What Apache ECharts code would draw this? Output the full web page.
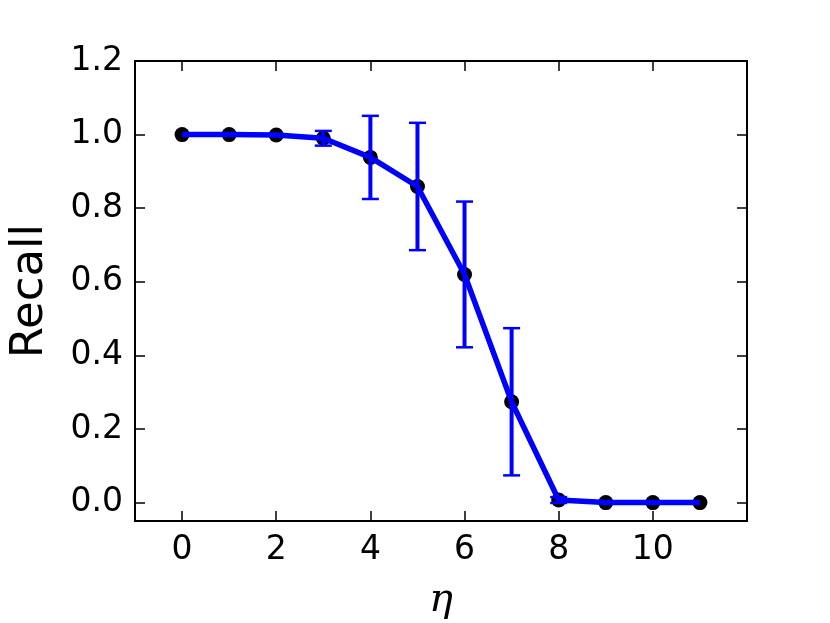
<!DOCTYPE html>
<html>
<head>
<meta charset="utf-8">
<script src="https://cdn.jsdelivr.net/npm/echarts@6/dist/echarts.min.js"></script>
<style>
  html, body { margin: 0; padding: 0; background: #fff; }
  #recallChart { width: 830px; height: 623px; }
</style>
</head>
<body>
<div id="recallChart"></div>
<script>
// eta values along the x axis
const etaValues = [0, 1, 2, 3, 4, 5, 6, 7, 8, 9, 10, 11];
// mean recall per eta
const recallMean = [1.0, 1.0, 0.999, 0.99, 0.938, 0.859, 0.62, 0.274, 0.007, 0.0, 0.0, 0.0];
// half width of the error bar
const recallErr = [0, 0, 0, 0.02, 0.113, 0.173, 0.198, 0.2, 0.008, 0, 0, 0];
const xTicks = [0, 2, 4, 6, 8, 10];
const yTicks = [0.0, 0.2, 0.4, 0.6, 0.8, 1.0, 1.2];

const chart = echarts.init(document.getElementById("recallChart"));

const points = etaValues.map((x, i) => [x, recallMean[i]]);
const bars = etaValues
  .map((x, i) => [x, recallMean[i] - recallErr[i], recallMean[i] + recallErr[i]])
  .filter((d, i) => recallErr[i] > 0);

const tickStyle = { show: true, inside: true, length: 10, lineStyle: { color: "#000", width: 1.5 } };
const hiddenLine = { show: false, onZero: false };

chart.setOption({
  animation: false,
  textStyle: { fontFamily: "DejaVu Sans" },
  grid: {
    left: 135, right: 83, top: 61, bottom: 102,
    outerBoundsMode: "none", containLabel: false,
    show: true, borderColor: "#000", borderWidth: 2, backgroundColor: "#fff"
  },
  xAxis: [
    {
      type: "value", min: -1, max: 12, position: "bottom",
      name: "η", nameLocation: "middle", nameGap: 60,
      nameTextStyle: { fontFamily: "DejaVu Serif", fontStyle: "italic", fontSize: 40, color: "#000" },
      axisLine: hiddenLine,
      splitLine: { show: false },
      axisTick: Object.assign({ customValues: xTicks }, tickStyle),
      axisLabel: { customValues: xTicks, fontSize: 33, color: "#000", margin: 13 }
    },
    {
      type: "value", min: -1, max: 12, position: "top",
      axisLine: hiddenLine, splitLine: { show: false },
      axisTick: Object.assign({ customValues: xTicks }, tickStyle),
      axisLabel: { show: false }
    }
  ],
  yAxis: [
    {
      type: "value", min: -0.05, max: 1.2, position: "left",
      name: "Recall", nameLocation: "middle", nameGap: 82, nameRotate: 90,
      nameTextStyle: { fontSize: 45, color: "#000" },
      axisLine: hiddenLine,
      splitLine: { show: false },
      axisTick: Object.assign({ customValues: yTicks }, tickStyle),
      axisLabel: {
        customValues: yTicks, fontSize: 33, color: "#000", margin: 12,
        formatter: v => v.toFixed(1)
      }
    },
    {
      type: "value", min: -0.05, max: 1.2, position: "right",
      axisLine: hiddenLine, splitLine: { show: false },
      axisTick: Object.assign({ customValues: yTicks }, tickStyle),
      axisLabel: { show: false }
    }
  ],
  series: [
    {
      name: "markers",
      type: "scatter",
      data: points,
      symbol: "circle",
      symbolSize: 15,
      itemStyle: { color: "#000", opacity: 1 },
      z: 2
    },
    {
      name: "recall",
      type: "line",
      data: points,
      showSymbol: false,
      lineStyle: { color: "#0000ff", width: 5.5, opacity: 1 },
      z: 3
    },
    {
      name: "errors",
      type: "custom",
      data: bars,
      z: 4,
      renderItem: function (params, api) {
        const x = api.value(0);
        const lo = api.coord([x, api.value(1)]);
        const hi = api.coord([x, api.value(2)]);
        const cap = 8.5;
        const style = { stroke: "#0000ff", lineWidth: 4 };
        const capStyle = { stroke: "#0000ff", lineWidth: 2.5 };
        return {
          type: "group",
          children: [
            { type: "line", shape: { x1: lo[0], y1: lo[1], x2: hi[0], y2: hi[1] }, style: style },
            { type: "line", shape: { x1: lo[0] - cap, y1: lo[1], x2: lo[0] + cap, y2: lo[1] }, style: capStyle },
            { type: "line", shape: { x1: hi[0] - cap, y1: hi[1], x2: hi[0] + cap, y2: hi[1] }, style: capStyle }
          ]
        };
      }
    }
  ]
});
</script>
</body>
</html>
